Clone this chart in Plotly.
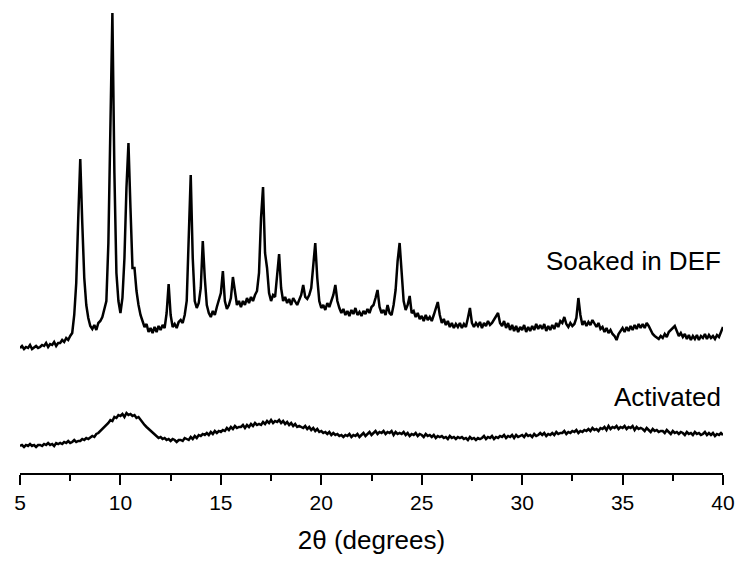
import plotly.graph_objects as go

# 2-theta scan grid (degrees), 0.1 degree steps from 5 to 40
two_theta = [round(5 + 0.1 * i, 1) for i in range(351)]

# Intensity (a.u.), "Soaked in DEF" (offset trace), one row per degree
soaked_def = [
    125, 127, 124, 126, 125, 128, 124, 126, 127, 125,   # 5.x
    126, 128, 127, 130, 126, 129, 128, 131, 127, 130,   # 6.x
    130, 133, 131, 135, 133, 137, 140, 158, 190, 255,   # 7.x
    314, 250, 195, 168, 155, 147, 144, 148, 143, 150,   # 8.x
    152, 156, 163, 172, 230, 370, 460, 300, 200, 172,   # 9.x
    160, 175, 215, 285, 330, 265, 205, 205, 182, 168,   # 10.x
    158, 152, 146, 149, 141, 145, 140, 146, 141, 147,   # 11.x
    143, 148, 145, 160, 189, 158, 146, 149, 145, 151,   # 12.x
    153, 150, 158, 172, 240, 298, 215, 172, 165, 170,   # 13.x
    185, 232, 195, 168, 160, 156, 162, 158, 166, 172,   # 14.x
    180, 202, 172, 164, 168, 175, 196, 182, 168, 172,   # 15.x
    166, 172, 168, 175, 170, 176, 172, 178, 182, 200,   # 16.x
    255, 286, 220, 205, 180, 172, 178, 176, 200, 219,   # 17.x
    185, 172, 176, 170, 174, 168, 175, 171, 168, 173,   # 18.x
    178, 188, 176, 174, 178, 185, 212, 230, 195, 172,   # 19.x
    165, 168, 163, 170, 166, 172, 178, 188, 172, 165,   # 20.x
    160, 164, 158, 162, 157, 163, 159, 165, 158, 161,   # 21.x
    157, 162, 159, 164, 160, 166, 168, 175, 183, 166,   # 22.x
    160, 163, 158, 168, 160, 158, 168, 183, 212, 230,   # 23.x
    205, 172, 163, 168, 177, 160, 162, 156, 160, 154,   # 24.x
    157, 152, 158, 153, 156, 152, 158, 165, 171, 158,   # 25.x
    150, 154, 148, 152, 146, 150, 145, 149, 146, 150,   # 26.x
    145, 149, 146, 155, 165, 150, 146, 150, 147, 151,   # 27.x
    145, 150, 147, 152, 148, 150, 153, 156, 160, 150,   # 28.x
    147, 152, 145, 150, 143, 148, 142, 147, 141, 146,   # 29.x
    143, 148, 141, 146, 142, 147, 143, 149, 144, 148,   # 30.x
    144, 149, 142, 147, 143, 148, 144, 150, 146, 152,   # 31.x
    150, 156, 149, 146, 150, 147, 149, 155, 175, 158,   # 32.x
    148, 152, 147, 151, 148, 153, 149, 146, 150, 144,   # 33.x
    146, 141, 145, 140, 143, 139, 137, 133, 139, 142,   # 34.x
    145, 141, 146, 142, 147, 143, 148, 144, 149, 145,   # 35.x
    149, 145, 150, 147, 143, 139, 137, 135, 134, 137,   # 36.x
    135, 139, 136, 141, 143, 146, 147, 142, 137, 140,   # 37.x
    136, 139, 134, 138, 133, 137, 134, 138, 133, 137,   # 38.x
    135, 139, 134, 138, 135, 137, 134, 138, 136, 141,   # 39.x
    146,                                                # 40.0
]

# Intensity (a.u.), "Activated"
activated = [
    27, 28, 26, 28, 27, 29, 27, 28, 26, 28,   # 5.x
    28, 27, 29, 28, 30, 28, 29, 27, 30, 29,   # 6.x
    30, 29, 31, 30, 32, 30, 31, 33, 31, 32,   # 7.x
    32, 34, 33, 35, 34, 36, 37, 36, 39, 40,   # 8.x
    42, 43, 46, 47, 50, 53, 52, 56, 55, 58,   # 9.x
    57, 59, 56, 60, 58, 59, 57, 58, 55, 56,   # 10.x
    53, 51, 48, 46, 44, 42, 40, 38, 37, 35,   # 11.x
    36, 34, 35, 33, 34, 32, 34, 33, 31, 33,   # 12.x
    33, 32, 35, 34, 33, 36, 34, 37, 35, 38,   # 13.x
    37, 39, 38, 40, 38, 41, 39, 42, 40, 42,   # 14.x
    41, 43, 42, 45, 43, 46, 44, 47, 45, 46,   # 15.x
    46, 48, 45, 48, 46, 49, 47, 50, 48, 49,   # 16.x
    48, 51, 49, 52, 50, 53, 50, 52, 51, 53,   # 17.x
    50, 52, 49, 51, 48, 50, 47, 49, 46, 47,   # 18.x
    46, 45, 47, 44, 46, 43, 45, 42, 44, 41,   # 19.x
    42, 40, 41, 39, 41, 38, 40, 38, 39, 37,   # 20.x
    38, 36, 38, 37, 39, 36, 38, 37, 39, 36,   # 21.x
    38, 40, 37, 39, 41, 38, 40, 42, 39, 41,   # 22.x
    40, 42, 39, 41, 40, 42, 38, 41, 39, 40,   # 23.x
    39, 41, 38, 40, 37, 39, 38, 40, 37, 39,   # 24.x
    38, 36, 39, 37, 38, 36, 38, 35, 37, 36,   # 25.x
    37, 35, 36, 34, 37, 35, 36, 34, 36, 35,   # 26.x
    36, 34, 35, 33, 36, 34, 35, 33, 35, 34,   # 27.x
    35, 37, 34, 36, 35, 37, 34, 36, 35, 37,   # 28.x
    36, 38, 35, 37, 36, 38, 35, 38, 36, 37,   # 29.x
    38, 36, 39, 37, 38, 36, 39, 37, 38, 40,   # 30.x
    38, 40, 37, 39, 38, 40, 38, 41, 39, 40,   # 31.x
    40, 42, 39, 41, 40, 42, 41, 43, 40, 42,   # 32.x
    41, 43, 42, 44, 42, 45, 43, 44, 42, 45,   # 33.x
    44, 46, 43, 47, 44, 46, 45, 47, 44, 46,   # 34.x
    45, 47, 44, 46, 45, 47, 43, 46, 44, 45,   # 35.x
    44, 42, 45, 43, 41, 44, 42, 43, 41, 42,   # 36.x
    42, 40, 43, 41, 39, 42, 40, 41, 39, 41,   # 37.x
    40, 38, 41, 39, 40, 38, 41, 39, 40, 38,   # 38.x
    39, 41, 38, 40, 38, 40, 37, 39, 38, 40,   # 39.x
    38,                                       # 40.0
]

x_ticks = [5, 10, 15, 20, 25, 30, 35, 40]
series_labels = ["Soaked in DEF", "Activated"]

FONT = "Liberation Sans, Arial, sans-serif"

fig = go.Figure()
fig.add_trace(go.Scatter(x=two_theta, y=soaked_def, mode="lines",
                         line=dict(color="black", width=2.5), name=series_labels[0]))
fig.add_trace(go.Scatter(x=two_theta, y=activated, mode="lines",
                         line=dict(color="black", width=2.5), name=series_labels[1]))

fig.add_annotation(text=series_labels[0], xref="paper", x=1.0, xanchor="right",
                   yref="y", y=212, yanchor="middle", showarrow=False,
                   font=dict(family=FONT, size=26, color="black"))
fig.add_annotation(text=series_labels[1], xref="paper", x=1.0, xanchor="right",
                   yref="y", y=76, yanchor="middle", showarrow=False,
                   font=dict(family=FONT, size=26, color="black"))

fig.update_layout(
    width=745, height=562,
    margin=dict(l=20, r=17, t=10, b=89),
    paper_bgcolor="white", plot_bgcolor="white",
    showlegend=False,
    hovermode=False,
    font=dict(family=FONT, color="black"),
    xaxis=dict(
        range=[5, 40], tickvals=x_ticks, ticktext=[str(t) for t in x_ticks],
        ticks="outside", ticklen=10, tickwidth=2, tickcolor="black",
        showline=True, linewidth=2, linecolor="black",
        showgrid=False, zeroline=False,
        tickfont=dict(family=FONT, size=21, color="black"),
        title=dict(text="2θ (degrees)", font=dict(family=FONT, size=26, color="black"),
                   standoff=18),
        minor=dict(dtick=2.5, tick0=5, ticks="outside", ticklen=6, tickwidth=2,
                   tickcolor="black", showgrid=False),
    ),
    yaxis=dict(visible=False, range=[0, 463]),
)

fig.write_html(
    "out.html",
    config={"displayModeBar": False, "staticPlot": True},
    post_script="document.body.style.margin='0';document.body.style.overflow='hidden';",
)
